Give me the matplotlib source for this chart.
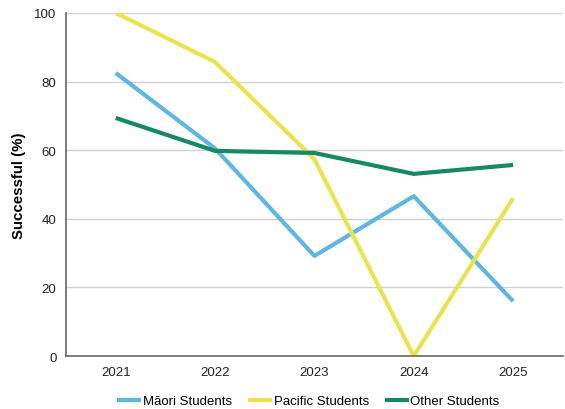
import matplotlib
matplotlib.use("Agg")
import matplotlib.pyplot as plt

years = ["2021", "2022", "2023", "2024", "2025"]
maori = [82.5, 60.5, 29.2, 46.6, 16.0]
pacific = [100.0, 85.7, 57.4, 0.0, 46.0]
other = [69.4, 59.8, 59.2, 53.1, 55.7]
series_names = ["Māori Students", "Pacific Students", "Other Students"]
colors = ["#5DB6E4", "#E9E44C", "#158A5E"]

plt.rcParams['font.family'] = ['Liberation Sans', 'DejaVu Sans']

fig = plt.figure(figsize=(5.65, 4.1), dpi=100)
ax = fig.add_axes([0.117, 0.129, 0.879, 0.837])

x = list(range(len(years)))
for vals, name, c in zip([maori, pacific, other], series_names, colors):
    ax.plot(x, vals, color=c, linewidth=3, label=name, solid_capstyle='butt')

ax.set_xlim(-0.5, len(years) - 0.5)
ax.set_ylim(0, 100)
ax.set_yticks([0, 20, 40, 60, 80, 100])
ax.set_xticks(x)
ax.set_xticklabels(years)
ax.tick_params(axis='both', length=0, labelsize=9.5, colors='#222222', pad=7)
ax.grid(axis='y', color='#D0D0D0', linewidth=1)
ax.set_axisbelow(True)
for s in ['top', 'right']:
    ax.spines[s].set_visible(False)
for s in ['left', 'bottom']:
    ax.spines[s].set_color('#666666')
    ax.spines[s].set_linewidth(1.2)
ax.set_ylabel("Successful (%)", fontsize=10.8, fontweight='bold', labelpad=6)

fig.legend(loc='lower center', bbox_to_anchor=(0.546, -0.025), ncol=3, frameon=False,
           fontsize=9.5, handlelength=1.8, handletextpad=0.15, columnspacing=1.2)

fig.savefig("out.png", dpi=100)
